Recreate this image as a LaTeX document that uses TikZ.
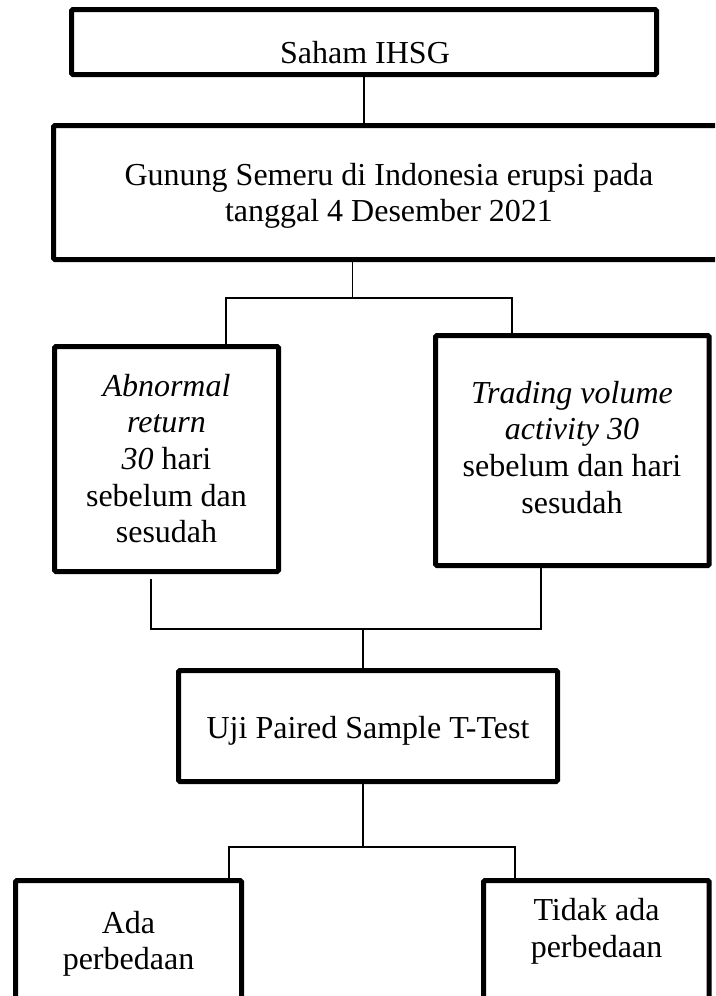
\documentclass[tikz,border=0pt]{standalone}
\usepackage{fontspec}
\setmainfont{Liberation Serif}
\begin{document}
\begin{tikzpicture}[x=0.75pt,y=-0.75pt,
  boxn/.style={draw, line width=3.75pt, rounded corners=1pt, inner sep=0pt, outer sep=0pt},
  conn/.style={line width=1pt},
  txt/.style={anchor=base, inner sep=0pt, font=\fontsize{24}{27.5}\selectfont}]
\useasboundingbox (0,0) rectangle (715,996);
\clip (0,0) rectangle (715,996);
% boxes
\node[boxn, minimum width=585*0.75pt, minimum height=65*0.75pt] (b1) at (364,42) {};
\node[boxn, minimum width=706.5*0.75pt, minimum height=134*0.75pt] (b2) at (406.75,192.5) {};
\node[boxn, minimum width=224*0.75pt, minimum height=225*0.75pt] (b3) at (166.5,459) {};
\node[boxn, minimum width=273.7*0.75pt, minimum height=230*0.75pt] (b4) at (572.35,450.5) {};
\node[boxn, minimum width=379*0.75pt, minimum height=111*0.75pt] (b5) at (368,726) {};
\node[boxn, minimum width=226*0.75pt, minimum height=139.5*0.75pt] (b6) at (128.5,950.25) {};
\node[boxn, minimum width=225.7*0.75pt, minimum height=139.5*0.75pt] (b7) at (596.35,950.25) {};
% texts
\node[txt] (t1) at (365,63) {Saham IHSG};
\node[txt] (t2) at (389,185) {\begin{tabular}[t]{@{}c@{}}Gunung Semeru di Indonesia erupsi pada\\tanggal 4 Desember 2021\end{tabular}};
\node[txt] (t3) at (166.5,396) {\begin{tabular}[t]{@{}c@{}}\textit{Abnormal}\\\textit{return}\\\textit{30} hari\\sebelum dan\\sesudah\end{tabular}};
\node[txt] (t4) at (572,403) {\begin{tabular}[t]{@{}c@{}}\textit{Trading volume}\\\textit{activity 30}\\sebelum dan hari\\sesudah\end{tabular}};
\node[txt] (t5) at (368,738) {Uji Paired Sample T-Test};
\node[txt] (t6) at (128.5,933) {\begin{tabular}[t]{@{}c@{}}Ada\\perbedaan\end{tabular}};
\node[txt] (t7) at (596.5,920.5) {\begin{tabular}[t]{@{}c@{}}Tidak ada\\perbedaan\end{tabular}};
% connector points
\coordinate (j1) at (352.5,297);
\coordinate (l1) at (226,298);
\coordinate (r1) at (512,298);
\coordinate (l2) at (151,579);
\coordinate (r2) at (541,567);
\coordinate (j2) at (363,629);
\coordinate (j3) at (363,847);
\coordinate (l3) at (229,847);
\coordinate (r3) at (515,847);
% connectors
\draw[conn] (b1.south) -- (b2.north -| b1.south);
\draw[conn] (b2.south -| j1) -- (j1);
\draw[conn] (b3.north -| l1) -- (l1) -- (r1) -- (b4.north -| r1);
\draw[conn] (l2) |- (j2) -| (r2);
\draw[conn] (j2) -- (b5.north -| j2);
\draw[conn] (b5.south -| j3) -- (j3);
\draw[conn] (b6.north -| l3) -- (l3) -- (r3) -- (b7.north -| r3);
\end{tikzpicture}
\end{document}
